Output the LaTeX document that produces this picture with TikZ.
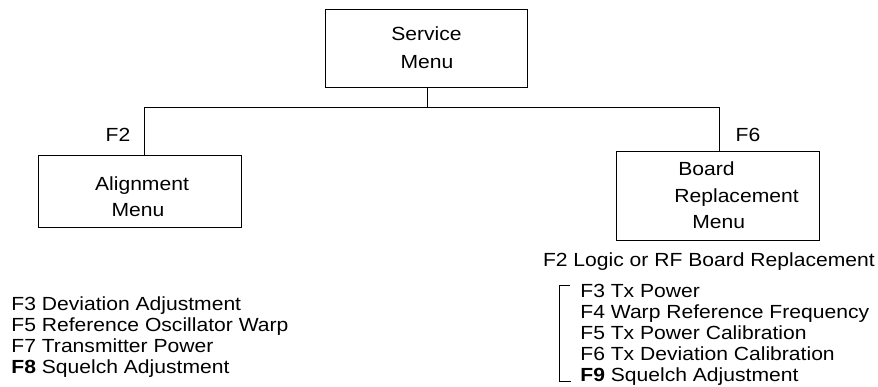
\documentclass[tikz,border=0pt]{standalone}
\usepackage{fontspec}
\setmainfont{Liberation Sans}[FakeStretch=1.11]
\begin{document}
\begin{tikzpicture}[x=1pt,y=-1pt,
  line width=0.8pt,
  txt/.style={font=\fontsize{19}{21}\selectfont, inner sep=0pt},
  menubox/.style={draw, rectangle, inner sep=0pt},
  conn/.style={draw, line width=0.8pt}]
\useasboundingbox (0,0) rectangle (878,386);

% boxes
\node[menubox, minimum width=202pt, minimum height=78.5pt] (svc) at (426,48.5) {};
\node[menubox, minimum width=203pt, minimum height=72pt] (aln) at (139.5,191.7) {};
\node[menubox, minimum width=203pt, minimum height=89pt] (brd) at (718,195.5) {};

% box texts
\node[txt, anchor=base] (svc1) at (426.5,40) {Service};
\node[txt, anchor=base] (svc2) at (427,68) {Menu};
\node[txt, anchor=base] (aln1) at (142,190.7) {Alignment};
\node[txt, anchor=base] (aln2) at (138,216.7) {Menu};
\node[txt, anchor=base west] (brd1) at (678,175.7) {Board};
\node[txt, anchor=base west] (brd2) at (674,202.3) {Replacement};
\node[txt, anchor=base west] (brd3) at (692,228.3) {Menu};

% connectors
\coordinate (jc) at (427,107.3);
\coordinate (jl) at (144.5,107.3);
\coordinate (jr) at (719,107.3);
\draw[conn] (svc.south -| jc) -- (jc);
\draw[conn] (jl) -- (jr);
\draw[conn] (jl) -- (jl |- aln.north);
\draw[conn] (jr) -- (jr |- brd.north);

% key labels
\node[txt, anchor=base] (kf2) at (118,141.7) {F2};
\node[txt, anchor=base] (kf6) at (748,141.7) {F6};

% left list
\node[txt, anchor=base west] (l1) at (11,310) {F3 Deviation Adjustment};
\node[txt, anchor=base west] (l2) at (11,331.3) {F5 Reference Oscillator Warp};
\node[txt, anchor=base west] (l3) at (11,352.6) {F7 Transmitter Power};
\node[txt, anchor=base west] (l4) at (11,373.9) {\textbf{F8} Squelch Adjustment};

% right list
\node[txt, anchor=base west] (r0) at (542.6,266.7) {F2 Logic or RF Board Replacement};
\node[txt, anchor=base west] (r1) at (580,297) {F3 Tx Power};
\node[txt, anchor=base west] (r2) at (580,318) {F4 Warp Reference Frequency};
\node[txt, anchor=base west] (r3) at (580,339) {F5 Tx Power Calibration};
\node[txt, anchor=base west] (r4) at (580,360) {F6 Tx Deviation Calibration};
\node[txt, anchor=base west] (r5) at (580,381) {\textbf{F9} Squelch Adjustment};

% bracket
\coordinate (bt) at (559,285);
\coordinate (bb) at (559,381);
\draw[conn] ([xshift=11pt]bt) -- (bt) -- (bb) -- ([xshift=12pt]bb);
\end{tikzpicture}
\end{document}
